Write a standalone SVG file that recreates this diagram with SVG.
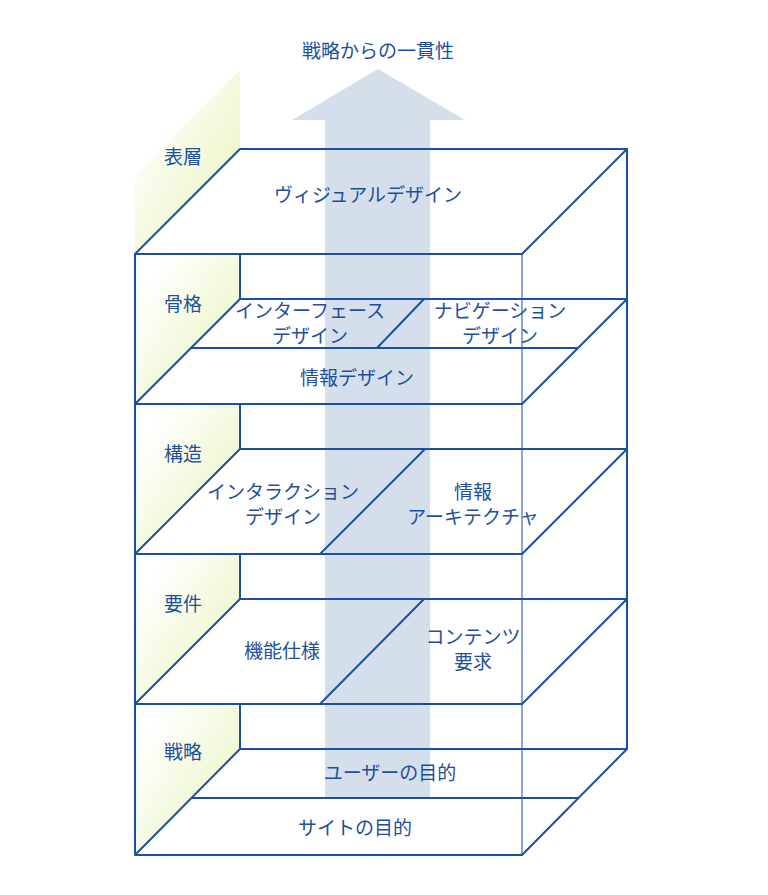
<svg xmlns="http://www.w3.org/2000/svg" width="768" height="895" viewBox="0 0 768 895">
<style>
.l{fill:none;stroke:#1c4f9f;stroke-width:2;stroke-linejoin:round}
.t{fill:none;stroke:#1c4f9f;stroke-width:1}
text{font-family:"Noto Sans CJK JP",sans-serif;font-size:19px;fill:#1f4f9c;text-anchor:middle}
.g{fill:url(#gr)}
</style>
<defs>
<linearGradient id="gr" x1="0" y1="0" x2="1" y2="1">
<stop offset="0.15" stop-color="#ffffff"/>
<stop offset="1" stop-color="#e4f3b4"/>
</linearGradient>
</defs>
<rect width="768" height="895" fill="#fff"/>
<g id="walls">
<polygon class="g" points="135,254 240,149 240,70 135,175"/>
<polygon class="g" points="135,254 240,254 240,299 135,404"/>
<polygon class="g" points="135,404 240,404 240,449 135,554"/>
<polygon class="g" points="135,554 240,554 240,599 135,704"/>
<polygon class="g" points="135,704 240,704 240,749 135,855"/>
</g>
<g id="arrow">
<polygon fill="#d5dfec" points="325,798 325,120 292,120 378,69 465,120 430,120 430,798"/>
</g>
<g id="connectors">
<polygon class="l" points="135,254 240,149 627,149 522,254"/>
<line class="l" x1="135" y1="254" x2="135" y2="855"/>
<line class="l" x1="627" y1="149" x2="627" y2="749"/>
<line class="t" x1="522" y1="254" x2="522" y2="855"/>
<line class="l" x1="240" y1="254" x2="240" y2="299"/>
<polygon class="l" points="135,404 240,299 627,299 522,404"/>
<line class="l" x1="191" y1="348" x2="578" y2="348"/>
<line class="l" x1="424" y1="299" x2="377" y2="348"/>
<line class="l" x1="240" y1="404" x2="240" y2="449"/>
<polygon class="l" points="135,554 240,449 627,449 522,554"/>
<line class="l" x1="425" y1="449" x2="320" y2="554"/>
<line class="l" x1="240" y1="554" x2="240" y2="599"/>
<polygon class="l" points="135,704 240,599 627,599 522,704"/>
<line class="l" x1="424" y1="599" x2="320" y2="704"/>
<line class="l" x1="240" y1="704" x2="240" y2="749"/>
<polygon class="l" points="135,855 240,749 627,749 522,855"/>
<line class="l" x1="192" y1="798" x2="578" y2="798"/>
</g>
<g id="labels">
<text x="378" y="58">戦略からの一貫性</text>
<text x="183" y="164">表層</text>
<text x="183" y="311">骨格</text>
<text x="183" y="461">構造</text>
<text x="183" y="611">要件</text>
<text x="183" y="759">戦略</text>
</g>
<g id="n-visual"><text x="368" y="202">ヴィジュアルデザイン</text></g>
<g id="n-interface"><text x="310" y="318">インターフェース</text><text x="310" y="343">デザイン</text></g>
<g id="n-nav"><text x="500" y="318">ナビゲーション</text><text x="500" y="343">デザイン</text></g>
<g id="n-info"><text x="357" y="385">情報デザイン</text></g>
<g id="n-interaction"><text x="283" y="499">インタラクション</text><text x="283" y="524">デザイン</text></g>
<g id="n-ia"><text x="473" y="499">情報</text><text x="473" y="524">アーキテクチャ</text></g>
<g id="n-func"><text x="282" y="658">機能仕様</text></g>
<g id="n-content"><text x="473" y="644">コンテンツ</text><text x="473" y="669">要求</text></g>
<g id="n-user"><text x="390" y="780">ユーザーの目的</text></g>
<g id="n-site"><text x="355" y="835">サイトの目的</text></g>
</svg>
